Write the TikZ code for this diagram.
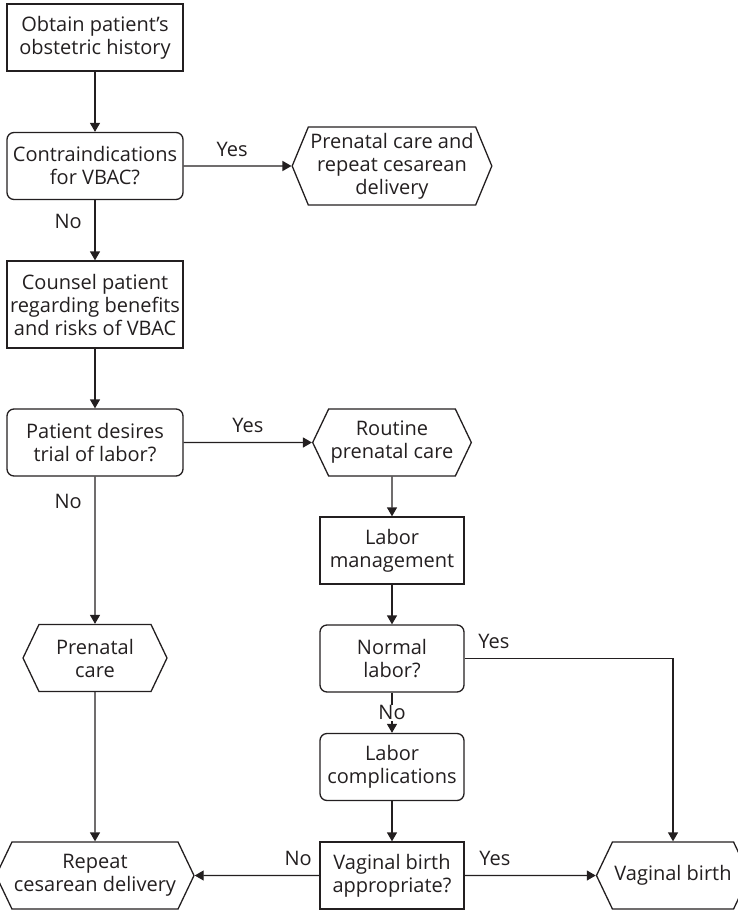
\documentclass[tikz,border=0pt]{standalone}
\usepackage{fontspec}
\setmainfont{Open Sans}
\usepackage{tikz}
\usetikzlibrary{shapes,arrows.meta,positioning}
\definecolor{ink}{RGB}{35,31,32}

\begin{document}
\begin{tikzpicture}[x=0.5pt, y=-0.5pt, color=ink, line width=0.65pt,
  font=\fontsize{10}{11.5}\selectfont,
  box/.style={draw, align=center, inner sep=1pt, minimum width=#1, minimum height=33.5pt},
  box/.default=88pt,
  query/.style={box=#1, rounded corners=3.5pt},
  query/.default=88pt,
  hexa/.style={draw, signal, signal to=west and east, signal pointer angle=129, align=center, inner sep=1pt, minimum width=#1, minimum height=33.5pt},
  hexa/.default=88pt,
  arr/.style={-{Triangle[length=4.5pt,width=5pt]}}]
  \useasboundingbox (0,0) rectangle (738,911);
  \node [box] at (95,37.5) (obtain) {Obtain patient's\\obstetric history};
  \node [query] at (95,166) (contra) {Contraindications\\for VBAC?};
  \node [hexa=94pt, minimum height=39pt, signal pointer angle=135] at (392,166) (prenrep) {Prenatal care and\\repeat cesarean\\delivery};
  \node [box, minimum height=43.5pt] at (95,304.5) (counsel) {Counsel patient\\regarding benefits\\and risks of VBAC};
  \node [query] at (95,442.5) (desire) {Patient desires\\trial of labor?};
  \node [hexa=72pt] at (392,442.5) (routine) {Routine\\prenatal care};
  \node [box=72pt] at (392,550.5) (manage) {Labor\\management};
  \node [query=72pt] at (392,658.5) (normal) {Normal\\labor?};
  \node [hexa=72pt] at (95,658) (prenatal) {Prenatal\\care};
  \node [query=72pt] at (392,767) (complic) {Labor\\complications};
  \node [box=72pt] at (392,875.5) (approp) {Vaginal birth\\appropriate?};
  \node [hexa=88.5pt] at (95,875.5) (repeat) {Repeat\\cesarean delivery};
  \node [hexa=73pt] at (673,875.5) (vaginal) {Vaginal birth};
  \draw [arr] (obtain) -- (contra);
  \draw [arr] (contra) -- node [above=1.2pt, pos=0.45] {Yes} (prenrep);
  \draw [arr] (contra) -- node [left=3pt, pos=0.35] {No} (counsel);
  \draw [arr] (counsel) -- (desire);
  \draw [arr] (desire) -- node [above=1.2pt] {Yes} (routine);
  \draw [arr] (desire) -- node [left=3pt, pos=0.17] {No} (prenatal);
  \draw [arr] (routine) -- (manage);
  \draw [arr] (manage) -- (normal);
  \draw [arr] (normal) -| node [above=1.2pt, pos=0.07] {Yes} (vaginal);
  \draw [arr] (normal) -- node [fill=white, inner sep=0.5pt] {No} (complic);
  \draw [arr] (complic) -- (approp);
  \draw [arr] (prenatal) -- (repeat);
  \draw [arr] (approp) -- node [above=1.2pt, pos=0.17] {No} (repeat);
  \draw [arr] (approp) -- node [above=1.2pt, pos=0.23] {Yes} (vaginal);
\end{tikzpicture}
\end{document}
